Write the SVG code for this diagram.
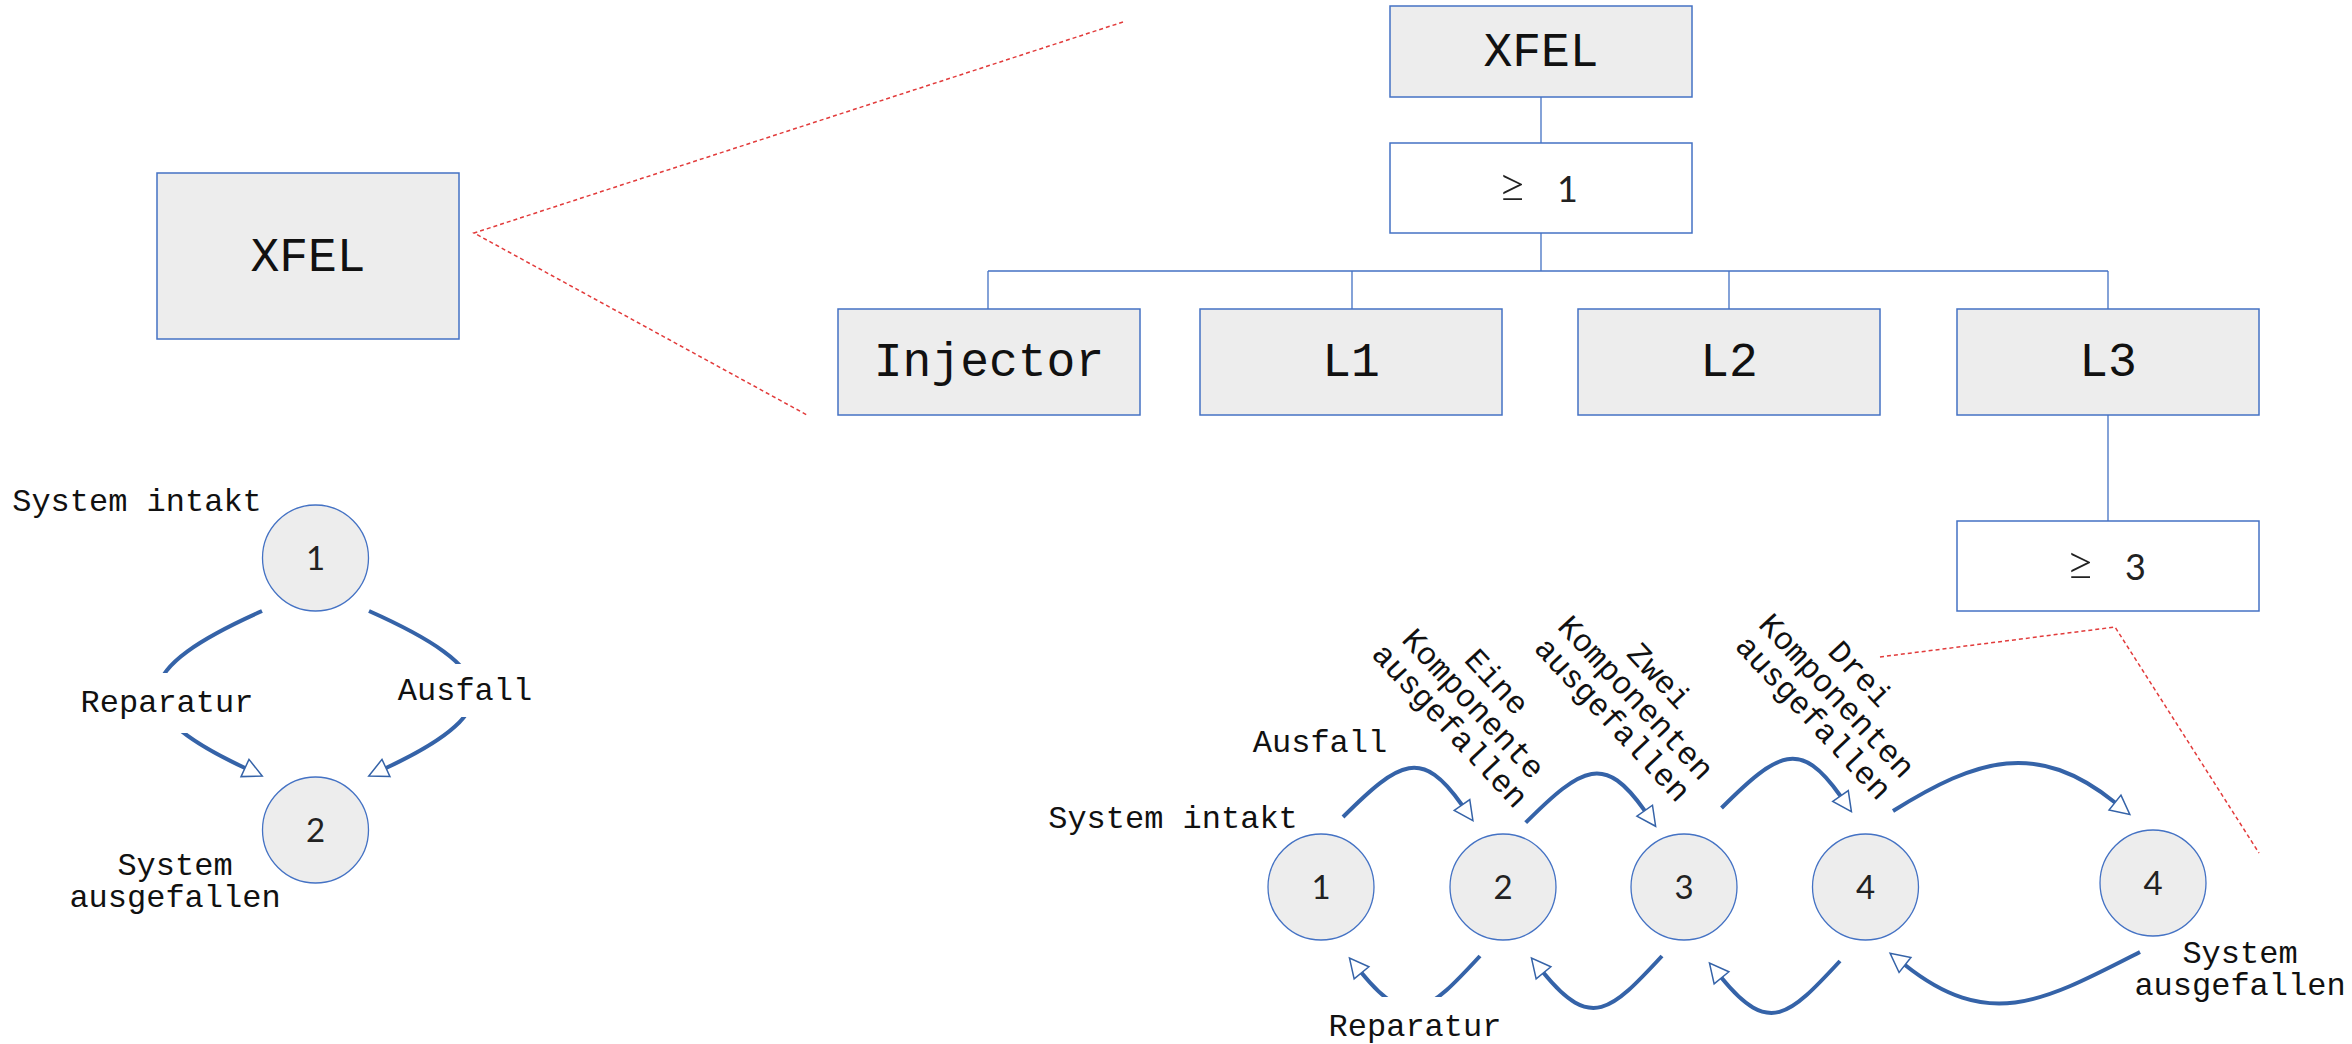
<svg xmlns="http://www.w3.org/2000/svg" width="2352" height="1044" viewBox="0 0 2352 1044">
<style>
.box{fill:#ededed;stroke:#4472c4;stroke-width:1.5}
.wbox{fill:#ffffff;stroke:#4472c4;stroke-width:1.5}
.tl{fill:none;stroke:#4472c4;stroke-width:1.3}
.zoom{fill:none;stroke:#e23b3b;stroke-width:1.5;stroke-dasharray:4 3}
.arc{fill:none;stroke:#3563a8;stroke-width:4;marker-end:url(#tri)}
.st{fill:#ededed;stroke:#4472c4;stroke-width:1.3}
.big{font-family:"Courier New","Liberation Mono",monospace;font-size:48px;fill:#111;text-anchor:middle}
.lbl{font-family:"Courier New","Liberation Mono",monospace;font-size:32px;fill:#111;text-anchor:middle}
.num{font-family:Lato,"Open Sans",sans-serif;font-weight:400;font-size:33px;fill:#222;text-anchor:middle}
.ge{font-family:Lato,"Open Sans",sans-serif;font-weight:400;font-size:36px;fill:#222}
.gs{font-size:50px;font-weight:300}
.bg{fill:#ffffff}
</style>
<defs>
<marker id="tri" markerUnits="userSpaceOnUse" markerWidth="20" markerHeight="20" refX="0" refY="0" orient="auto" overflow="visible">
<path d="M0,-9.5 L19,0 L0,9.5 Z" fill="#ffffff" stroke="#3563a8" stroke-width="1.5"/>
</marker>
</defs>

<g id="zoom-lines">
<path class="zoom" d="M1123,22 L474,233 L807,415"/>
<path class="zoom" d="M1880,657 L2115,627 L2259,853"/>
</g>

<g id="tree-connectors">
<path class="tl" d="M1541,97 V143 M1541,233 V271 M988,271 H2108 M988,271 V309 M1352,271 V309 M1729,271 V309 M2108,271 V309 M2108,415 V521"/>
</g>

<g id="node-xfel-left"><rect class="box" x="157" y="173" width="302" height="166"/><text class="big" x="308" y="271">XFEL</text></g>
<g id="node-xfel-top"><rect class="box" x="1390" y="6" width="302" height="91"/><text class="big" x="1541" y="66">XFEL</text></g>
<g id="node-ge1"><rect class="wbox" x="1390" y="143" width="302" height="90"/><text class="ge" x="1498" y="202"><tspan class="gs">≥</tspan> <tspan x="1557">1</tspan></text></g>
<g id="node-injector"><rect class="box" x="838" y="309" width="302" height="106"/><text class="big" x="989" y="376">Injector</text></g>
<g id="node-l1"><rect class="box" x="1200" y="309" width="302" height="106"/><text class="big" x="1351" y="376">L1</text></g>
<g id="node-l2"><rect class="box" x="1578" y="309" width="302" height="106"/><text class="big" x="1729" y="376">L2</text></g>
<g id="node-l3"><rect class="box" x="1957" y="309" width="302" height="106"/><text class="big" x="2108" y="376">L3</text></g>
<g id="node-ge3"><rect class="wbox" x="1957" y="521" width="302" height="90"/><text class="ge" x="2066" y="580"><tspan class="gs">≥</tspan> <tspan x="2125">3</tspan></text></g>

<g id="connectors">
<path class="arc" d="M262,611 C134,668 118,709 245,768"/>
<path class="arc" d="M369,611 C497,668 513,709 386,768"/>
<path class="arc" d="M1343,817 C1400,760 1422,748 1462,805"/>
<path class="arc" d="M1525.7,822.7 C1582.7,765.7 1604.7,753.7 1644.7,810.7"/>
<path class="arc" d="M1721.5,808 C1778.5,751 1800.5,739 1840.5,796"/>
<path class="arc" d="M1893,811 C1978,758 2037,740 2115,802.5"/>
<path class="arc" d="M1480,956 C1429,1011 1409,1031 1361.5,972.8"/>
<path class="arc" d="M1662,956 C1611,1011 1591,1031 1543.5,972.8"/>
<path class="arc" d="M1840,961 C1789,1016 1769,1036 1721.5,977.8"/>
<path class="arc" d="M2140,952 C2044,1001 1989.5,1032 1905,965"/>
</g>

<g id="state-left-1"><circle class="st" cx="315.5" cy="558" r="53"/><text class="num" x="315.5" y="570">1</text></g>
<g id="state-left-2"><circle class="st" cx="315.5" cy="830" r="53"/><text class="num" x="315.5" y="842">2</text></g>
<g id="state-1"><circle class="st" cx="1321" cy="887" r="53"/><text class="num" x="1321" y="899">1</text></g>
<g id="state-2"><circle class="st" cx="1503" cy="887" r="53"/><text class="num" x="1503" y="899">2</text></g>
<g id="state-3"><circle class="st" cx="1684" cy="887" r="53"/><text class="num" x="1684" y="899">3</text></g>
<g id="state-4"><circle class="st" cx="1865.5" cy="887" r="53"/><text class="num" x="1865.5" y="899">4</text></g>
<g id="state-4-failed"><circle class="st" cx="2153" cy="883" r="53"/><text class="num" x="2153" y="895">4</text></g>

<g id="labels">
<text class="lbl" x="137" y="511">System intakt</text>
<rect class="bg" x="76" y="673" width="182" height="60"/>
<text class="lbl" x="167" y="712">Reparatur</text>
<rect class="bg" x="394" y="664" width="143" height="53"/>
<text class="lbl" x="465" y="700">Ausfall</text>
<text class="lbl" x="175" y="875">System<tspan x="175" dy="32">ausgefallen</tspan></text>
<text class="lbl" x="1173" y="828">System intakt</text>
<text class="lbl" x="1320" y="752">Ausfall</text>
<rect class="bg" x="1322" y="997" width="186" height="47"/>
<text class="lbl" x="1415" y="1036">Reparatur</text>
<text class="lbl" x="2240" y="963">System<tspan x="2240" dy="32">ausgefallen</tspan></text>
<text class="lbl" transform="translate(1471,706) rotate(47)" x="0" y="-25">Eine<tspan x="0" dy="32">Komponente</tspan><tspan x="0" dy="32">ausgefallen</tspan></text>
<text class="lbl" transform="translate(1633.5,700) rotate(47)" x="0" y="-25">Zwei<tspan x="0" dy="32">Komponenten</tspan><tspan x="0" dy="32">ausgefallen</tspan></text>
<text class="lbl" transform="translate(1834.5,698) rotate(47)" x="0" y="-25">Drei<tspan x="0" dy="32">Komponenten</tspan><tspan x="0" dy="32">ausgefallen</tspan></text>
</g>
</svg>
